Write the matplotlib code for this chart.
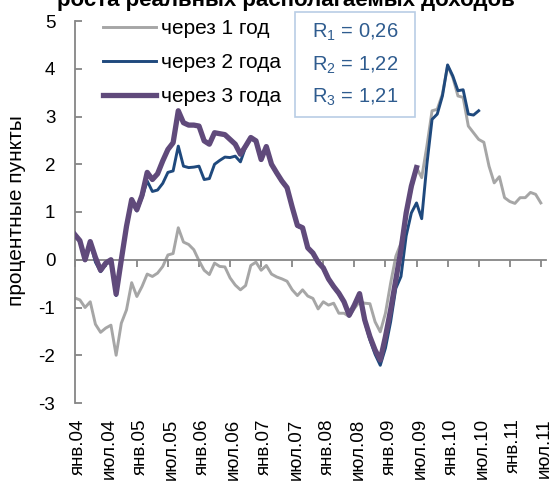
import matplotlib
matplotlib.use('Agg')
import matplotlib.pyplot as plt
from matplotlib.patches import Rectangle

plt.rcParams['font.family'] = ['Liberation Sans', 'DejaVu Sans']
plt.rcParams['mathtext.fontset'] = 'custom'
plt.rcParams['mathtext.rm'] = 'Liberation Sans'
plt.rcParams['mathtext.it'] = 'Liberation Sans'

# monthly values, Jan 2004 = month 0
one_year = [-0.80, -0.84, -1.00, -0.88, -1.35, -1.52, -1.43, -1.37, -2.00, -1.33,
            -1.05, -0.48, -0.77, -0.56, -0.30, -0.35, -0.28, -0.14, 0.10, 0.13,
            0.67, 0.37, 0.32, 0.21, -0.02, -0.22, -0.31, -0.07, -0.14, -0.15,
            -0.38, -0.53, -0.63, -0.54, -0.12, -0.05, -0.22, -0.12, -0.30, -0.36,
            -0.40, -0.45, -0.63, -0.75, -0.63, -0.76, -0.81, -1.03, -0.88, -0.95,
            -0.91, -1.12, -1.12, -1.19, -1.02, -0.88, -0.91, -0.92, -1.30, -1.51,
            -1.12, -0.49, 0.07, 0.35, 0.91, 1.47, 1.93, 1.72, 2.38, 3.12,
            3.15, 3.47, 4.06, 3.82, 3.43, 3.40, 2.80, 2.66, 2.52, 2.46,
            1.96, 1.61, 1.74, 1.30, 1.22, 1.18, 1.30, 1.30, 1.41, 1.37,
            1.19]
two_years = [0.50, 0.38, -0.02, 0.36, -0.05, -0.25, -0.10, -0.02, -0.75, -0.02,
             0.65, 1.22, 1.02, 1.30, 1.65, 1.43, 1.46, 1.60, 1.83, 1.86,
             2.38, 1.96, 1.93, 1.94, 1.96, 1.68, 1.70, 2.00, 2.08, 2.15,
             2.14, 2.17, 2.05, 2.36, 2.54, 2.47, 2.08, 2.35, 1.98, 1.80,
             1.63, 1.49, 1.08, 0.70, 0.65, 0.23, 0.12, -0.07, -0.19, -0.42,
             -0.58, -0.72, -0.90, -1.18, -0.97, -0.73, -1.30, -1.68, -1.98, -2.21,
             -1.85, -1.30, -0.60, -0.35, 0.50, 0.98, 1.19, 0.86, 2.00, 2.94,
             3.05, 3.43, 4.08, 3.85, 3.54, 3.56, 3.05, 3.03, 3.12]
three_years = [0.53, 0.40, 0.00, 0.38, 0.05, -0.22, -0.07, 0.00, -0.72, 0.00,
               0.70, 1.26, 1.05, 1.35, 1.83, 1.68, 1.80, 2.07, 2.31, 2.45,
               3.12, 2.87, 2.82, 2.82, 2.80, 2.49, 2.42, 2.66, 2.64, 2.62,
               2.52, 2.42, 2.21, 2.38, 2.56, 2.49, 2.10, 2.37, 2.00, 1.82,
               1.65, 1.51, 1.10, 0.72, 0.67, 0.25, 0.14, -0.05, -0.17, -0.40,
               -0.56, -0.70, -0.88, -1.16, -0.95, -0.71, -1.26, -1.61, -1.89, -2.10,
               -1.61, -1.05, -0.42, 0.21, 0.98, 1.54, 1.93]

tick_labels = ['янв.04', 'июл.04', 'янв.05', 'июл.05', 'янв.06', 'июл.06',
               'янв.07', 'июл.07', 'янв.08', 'июл.08', 'янв.09', 'июл.09',
               'янв.10', 'июл.10', 'янв.11', 'июл.11']
r_values = ['0,26', '1,22', '1,21']

grey = '#A6A6A6'
blue = '#1F497D'
purple = '#604A7B'
axis_col = '#868686'

W, H = 555, 483
fig = plt.figure(figsize=(W / 100, H / 100), dpi=100)
ax = fig.add_axes([74.7 / W, 1 - 403 / H, (546 - 74.7) / W, (403 - 21) / H])

ax.plot(range(len(one_year)), one_year, color=grey, lw=2.1, label='через 1 год', zorder=2)
ax.plot(range(len(two_years)), two_years, color=blue, lw=2.1, label='через 2 года', zorder=3)
ax.plot(range(len(three_years)), three_years, color=purple, lw=3.8, label='через 3 года', zorder=4)

ax.set_xlim(0, 91)
ax.set_ylim(-3, 5)
ax.set_yticks(range(-3, 6))
ax.set_yticklabels([str(v) for v in range(-3, 6)])

for s in ['top', 'right']:
    ax.spines[s].set_visible(False)
ax.spines['left'].set_color(axis_col)
ax.spines['left'].set_linewidth(1.3)
ax.spines['bottom'].set_position(('data', 0))
ax.spines['bottom'].set_color(axis_col)
ax.spines['bottom'].set_linewidth(1.3)
ax.set_xticks(range(0, 91, 6))
ax.tick_params(axis='x', direction='out', length=5, width=1.3, color=axis_col, labelbottom=False)
ax.tick_params(axis='y', direction='in', length=5, width=1.3, color=axis_col, pad=14, labelsize=13.5)

# month labels sit below the plot, not at the zero line
sec = ax.secondary_xaxis('bottom')
sec.set_xticks([m + 0.7 for m in range(0, 91, 6)], tick_labels)
sec.tick_params(length=0, pad=11, labelsize=13.5, rotation=90)
sec.spines['bottom'].set_visible(False)

fig.text(16.5 / W, 1 - 211 / H, 'процентные пункты', rotation=90, ha='center', va='center', fontsize=15)
fig.text(286 / W, 1 - 6 / H, 'роста реальных располагаемых доходов', ha='center', va='baseline',
         fontsize=16, fontweight='bold')

ax.legend(loc='upper left', bbox_to_anchor=(103 / W, 1 - 19 / H), bbox_transform=fig.transFigure,
          frameon=False, fontsize=15, handlelength=2.55, handletextpad=0.25, labelspacing=0.72,
          borderpad=0, borderaxespad=0)

fig.add_artist(Rectangle((295 / W, 1 - 117 / H), 120 / W, 105 / H, transform=fig.transFigure,
                         fill=False, edgecolor='#B9CDE5', lw=1.2))
for i, r in enumerate(r_values):
    fig.text(312 / W, 1 - (32.5 + 32.5 * i) / H, 'R$_{%d}$ = %s' % (i + 1, r), ha='left', va='center',
             fontsize=14.5, color='#2F5C8F')

fig.savefig('out.png', dpi=100)
